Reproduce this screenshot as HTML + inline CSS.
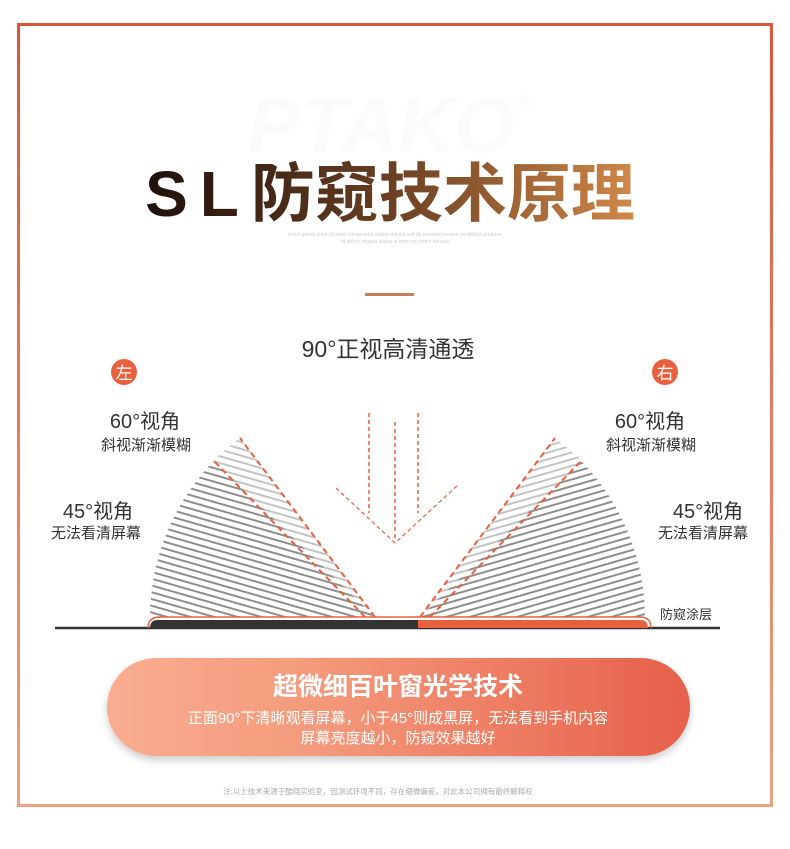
<!DOCTYPE html>
<html><head><meta charset="utf-8"><style>
html,body{margin:0;padding:0;background:#fff;}
body{width:790px;height:844px;overflow:hidden;font-family:"Liberation Sans","Noto Sans CJK SC",sans-serif;}
</style></head><body>
<svg width="790" height="844" viewBox="0 0 790 844" xmlns="http://www.w3.org/2000/svg" font-family="Liberation Sans, Noto Sans CJK SC, sans-serif">
<defs>
<linearGradient id="bd" x1="0" y1="0" x2="0" y2="1"><stop offset="0" stop-color="#d9573b"/><stop offset="1" stop-color="#eea080"/></linearGradient>
<linearGradient id="tt" x1="0" y1="0" x2="1" y2="0"><stop offset="0" stop-color="#1e100c"/><stop offset="0.5" stop-color="#6a3f22"/><stop offset="1" stop-color="#d08848"/></linearGradient>
<linearGradient id="pill" x1="0" y1="0" x2="1" y2="0"><stop offset="0" stop-color="#f9ad90"/><stop offset="0.35" stop-color="#f49a7c"/><stop offset="1" stop-color="#e6604a"/></linearGradient>
<filter id="sh" x="-10%" y="-20%" width="120%" height="150%"><feDropShadow dx="0" dy="4" stdDeviation="4" flood-color="#000" flood-opacity="0.2"/></filter>
<pattern id="hl" width="10" height="6.5" patternUnits="userSpaceOnUse" patternTransform="rotate(16)"><rect x="0" y="0" width="10" height="2" fill="#8e8e8e"/></pattern>
<pattern id="hlL" width="10" height="6.5" patternUnits="userSpaceOnUse" patternTransform="rotate(16)"><rect x="0" y="0" width="10" height="2" fill="#c4c4c4"/></pattern>
<pattern id="hr" width="10" height="6.5" patternUnits="userSpaceOnUse" patternTransform="rotate(-16)"><rect x="0" y="0" width="10" height="2" fill="#8e8e8e"/></pattern>
<pattern id="hrL" width="10" height="6.5" patternUnits="userSpaceOnUse" patternTransform="rotate(-16)"><rect x="0" y="0" width="10" height="2" fill="#c4c4c4"/></pattern>
</defs>
<rect x="18.5" y="24.5" width="753" height="781" fill="#fff" stroke="url(#bd)" stroke-width="3"/>
<text x="390" y="152" text-anchor="middle" font-size="78" font-weight="bold" font-style="italic" fill="#fbfbfb">PTAKO<tspan font-size="24" dy="-40">®</tspan></text>
<text x="390" y="216" text-anchor="middle" font-size="64" font-weight="bold" fill="url(#tt)"><tspan letter-spacing="12">SL</tspan><tspan>防窥技术原理</tspan></text>
<text x="395" y="236" text-anchor="middle" font-size="5" fill="#ccc">lorem ipsum dolor sit amet consectetur adipiscing elit sed do eiusmod tempor incididunt ut labore</text>
<text x="395" y="243" text-anchor="middle" font-size="5" fill="#ccc">et dolore magna aliqua ut enim ad minim veniam</text>
<rect x="365" y="293" width="49" height="3" fill="#c97c5c"/>
<text x="388" y="357" text-anchor="middle" font-size="23" fill="#333">90°正视高清通透</text>
<circle cx="124" cy="372" r="13" fill="#e9603f"/><text x="124" y="379" text-anchor="middle" font-size="17" fill="#fff">左</text>
<circle cx="665" cy="372" r="13" fill="#e9603f"/><text x="665" y="379" text-anchor="middle" font-size="17" fill="#fff">右</text>
<g fill="#333" text-anchor="middle">
<text x="145" y="428" font-size="20">60°视角</text><text x="146" y="450" font-size="15">斜视渐渐模糊</text>
<text x="98" y="518" font-size="20">45°视角</text><text x="96" y="538" font-size="15">无法看清屏幕</text>
<text x="650" y="428" font-size="20">60°视角</text><text x="651" y="450" font-size="15">斜视渐渐模糊</text>
<text x="708" y="518" font-size="20">45°视角</text><text x="703" y="538" font-size="15">无法看清屏幕</text>
</g>
<text x="660" y="619" font-size="13" fill="#333">防窥涂层</text>
<path d="M375,617 L150,617 A225,225 0 0 1 240,438 Z" fill="url(#hl)"/>
<path d="M375,617 L213,460 L240,438 Z" fill="#fff"/>
<path d="M375,617 L213,460 L240,438 Z" fill="url(#hlL)"/>
<line x1="375" y1="617" x2="240" y2="438" stroke="#e9603f" stroke-width="2" stroke-dasharray="6,4"/>
<line x1="365" y1="617" x2="213" y2="460" stroke="#e9603f" stroke-width="2" stroke-dasharray="6,4"/>
<path d="M420,617 L645,617 A225,225 0 0 0 555,438 Z" fill="url(#hr)"/>
<path d="M420,617 L582,460 L555,438 Z" fill="#fff"/>
<path d="M420,617 L582,460 L555,438 Z" fill="url(#hrL)"/>
<line x1="420" y1="617" x2="555" y2="438" stroke="#e9603f" stroke-width="2" stroke-dasharray="6,4"/>
<line x1="430" y1="617" x2="582" y2="460" stroke="#e9603f" stroke-width="2" stroke-dasharray="6,4"/>
<g stroke="#e9603f" stroke-width="1.5" stroke-dasharray="4,3" fill="none">
<line x1="369" y1="413" x2="369" y2="513"/><line x1="395" y1="422" x2="395" y2="540"/><line x1="418" y1="413" x2="418" y2="513"/>
<polyline points="336,488 395,543 458,485" stroke-width="1.2"/>
</g>
<line x1="55" y1="628" x2="720" y2="628" stroke="#333" stroke-width="2.5"/>
<path d="M150,628 Q150,620 158,620 L418,620 L418,628 Z" fill="#333"/>
<path d="M418,620 L640,620 Q648,620 648,628 L418,628 Z" fill="#e9603f"/>
<path d="M148,628 Q148,617 160,617 L640,617 Q651,617 651,628" fill="none" stroke="#e9603f" stroke-width="1.5"/>
<rect x="107" y="658" width="583" height="98" rx="49" fill="url(#pill)" filter="url(#sh)"/>
<text x="398" y="695" text-anchor="middle" font-size="25" font-weight="bold" fill="#fff">超微细百叶窗光学技术</text>
<text x="398" y="723" text-anchor="middle" font-size="15" fill="#fff">正面90°下清晰观看屏幕，小于45°则成黑屏，无法看到手机内容</text>
<text x="398" y="743" text-anchor="middle" font-size="15" fill="#fff">屏幕亮度越小，防窥效果越好</text>
<text x="378" y="794" text-anchor="middle" font-size="7.5" fill="#aaa">注:以上技术来源于酷晓实验室，因测试环境不同，存在细微偏差，对此本公司拥有最终解释权</text>
</svg>
</body></html>
